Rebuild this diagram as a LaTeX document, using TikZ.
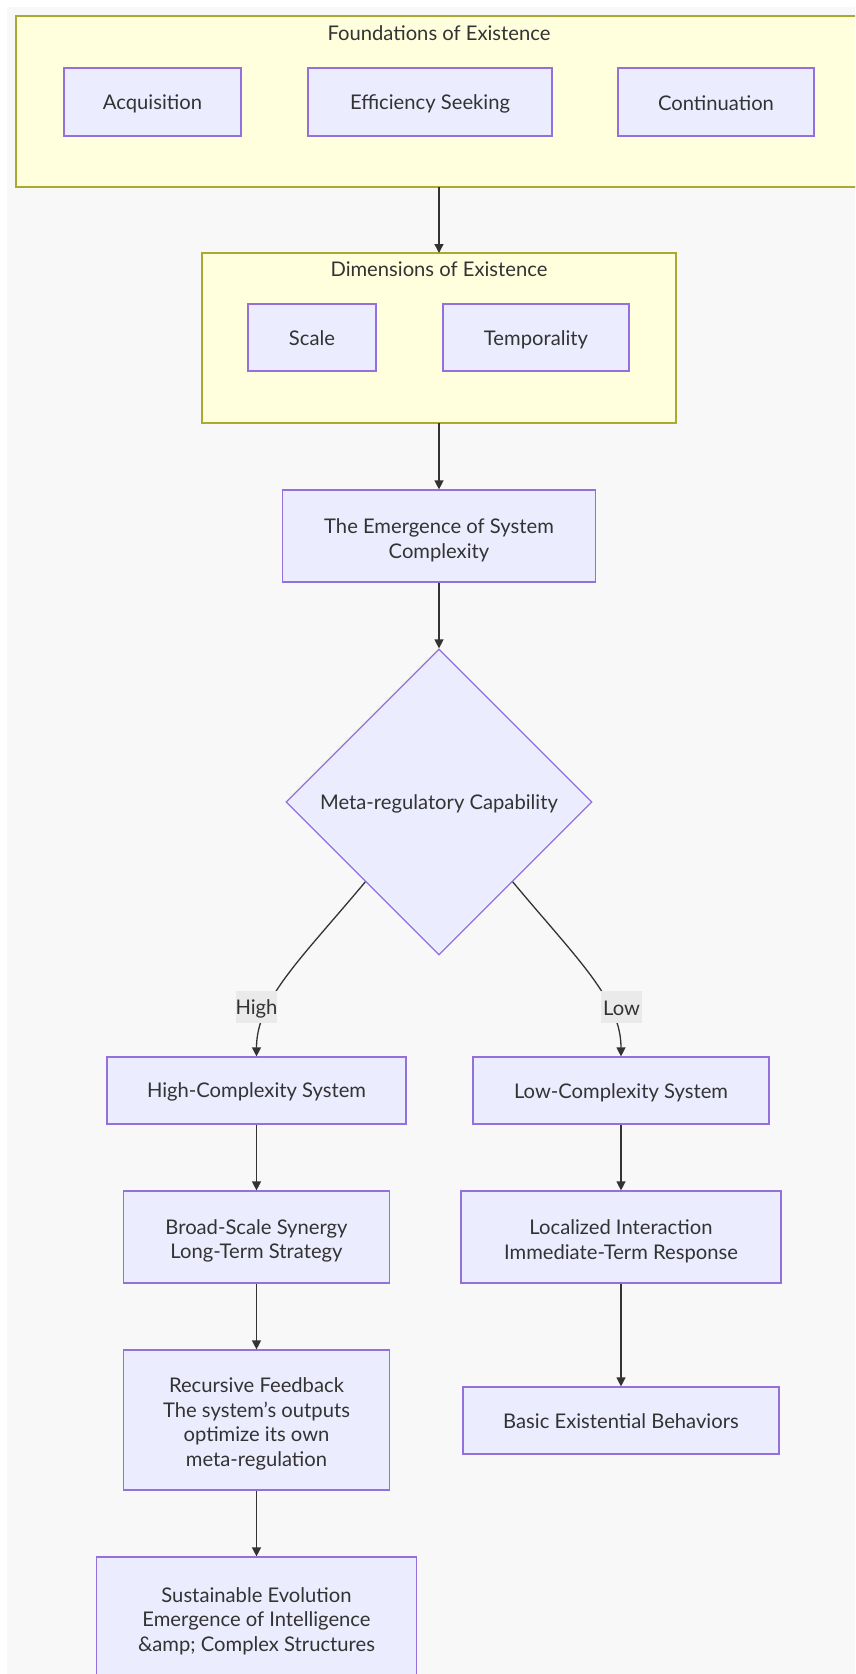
\documentclass[tikz,border=0pt]{standalone}
\usepackage{fontspec}
\setmainfont{Lato}
\usetikzlibrary{shapes.geometric,arrows.meta,calc}
\definecolor{bggray}{HTML}{F8F8F8}
\definecolor{clfill}{HTML}{FFFFDE}
\definecolor{clline}{HTML}{AAAA33}
\definecolor{ndfill}{HTML}{ECECFF}
\definecolor{ndline}{HTML}{9370DB}
\definecolor{txt}{HTML}{333333}
\definecolor{lblbg}{HTML}{EAEAEA}
\newcommand\mytop{\rule{0pt}{23pt}}
\tikzset{
  x=1pt, y=-1pt,
  every node/.style={text=txt, font=\fontsize{20.2}{24.5}\selectfont},
  struts/.style={execute at begin node={\rule{0pt}{18.5pt}}, execute at end node={\rule[-2pt]{0pt}{0pt}}},
  cluster/.style={draw=clline, fill=clfill, line width=1.2pt},
  box/.style={struts, draw=ndline, fill=ndfill, line width=1.2pt, rectangle, align=center, inner sep=0pt},
  decision/.style={struts, draw=ndline, fill=ndfill, line width=1.2pt, diamond, aspect=1, inner sep=0pt, minimum size=306pt, align=center},
  link/.style={draw=txt, line width=1.3pt, -{Triangle[length=9pt,width=9pt]}},
  lbl/.style={struts, fill=lblbg, inner sep=0pt, minimum width=41pt, minimum height=32pt}
}
\begin{document}
\begin{tikzpicture}
\useasboundingbox (0,0) rectangle (855,1674);
\clip (0,0) rectangle (855,1674);
\fill[white] (0,0) rectangle (855,1674);
\fill[bggray] (7,7) rectangle (860,1680);
% clusters
\draw[cluster] (16,16) rectangle (880,187);
\node (ftitle) at (439,33) {Foundations of Existence};
\draw[cluster] (202,253) rectangle (676,423);
\node (dtitle) at (439,269) {Dimensions of Existence};
\coordinate (fbot) at (439,187);
\coordinate (dtop) at (439,253);
\coordinate (dbot) at (439,423);
% nodes
\node[box, minimum width=177pt, minimum height=68pt] (acq) at (152.5,102) {Acquisition};
\node[box, minimum width=244pt, minimum height=68pt] (eff) at (430,102) {Efficiency Seeking};
\node[box, minimum width=196pt, minimum height=68pt] (cont) at (716,102) {Continuation};
\node[box, minimum width=128pt, minimum height=67pt] (scale) at (312,337.5) {Scale};
\node[box, minimum width=186pt, minimum height=67pt] (temp) at (536,337.5) {Temporality};
\node[box, minimum width=313pt, minimum height=92pt] (emer) at (439,536) {\mytop The Emergence of System\\Complexity};
\node[decision] (meta) at (439,802) {Meta-regulatory Capability};
\node[box, minimum width=299pt, minimum height=67pt] (high) at (256.5,1090.5) {High-Complexity System};
\node[box, minimum width=296pt, minimum height=67pt] (low) at (621,1090.5) {Low-Complexity System};
\node[box, minimum width=266pt, minimum height=92pt] (broad) at (256.5,1237) {\mytop Broad-Scale Synergy\\Long-Term Strategy};
\node[box, minimum width=320pt, minimum height=92pt] (local) at (621,1237) {\mytop Localized Interaction\\Immediate-Term Response};
\node[box, minimum width=266pt, minimum height=140pt] (rec) at (256.5,1420) {\mytop Recursive Feedback\\The system's outputs\\optimize its own\\meta-regulation};
\node[box, minimum width=316pt, minimum height=67pt] (basic) at (621,1420.5) {Basic Existential Behaviors};
\node[box, minimum width=320pt, minimum height=120pt] (sust) at (256.5,1617) {\mytop Sustainable Evolution\\Emergence of Intelligence\\\&amp; Complex Structures};
% connectors
\draw[link] (fbot) -- (dtop);
\draw[link] (dbot) -- (emer.north);
\draw[link] (emer.south) -- (meta.north);
\coordinate (hs) at ($(meta.west)!0.52!(meta.south)$);
\coordinate (ls) at ($(meta.east)!0.52!(meta.south)$);
\draw[link] (hs) .. controls (300,960) and (256.5,1000) .. (high.north);
\draw[link] (ls) .. controls (578,960) and (621,1000) .. (low.north);
\node[lbl] (hl) at (256.5,1007) {High};
\node[lbl] (ll) at (621.5,1007) {Low};
\draw[link] (high.south) -- (broad.north);
\draw[link] (broad.south) -- (rec.north);
\draw[link] (rec.south) -- (sust.north);
\draw[link] (low.south) -- (local.north);
\draw[link] (local.south) -- (basic.north);
\end{tikzpicture}
\end{document}
